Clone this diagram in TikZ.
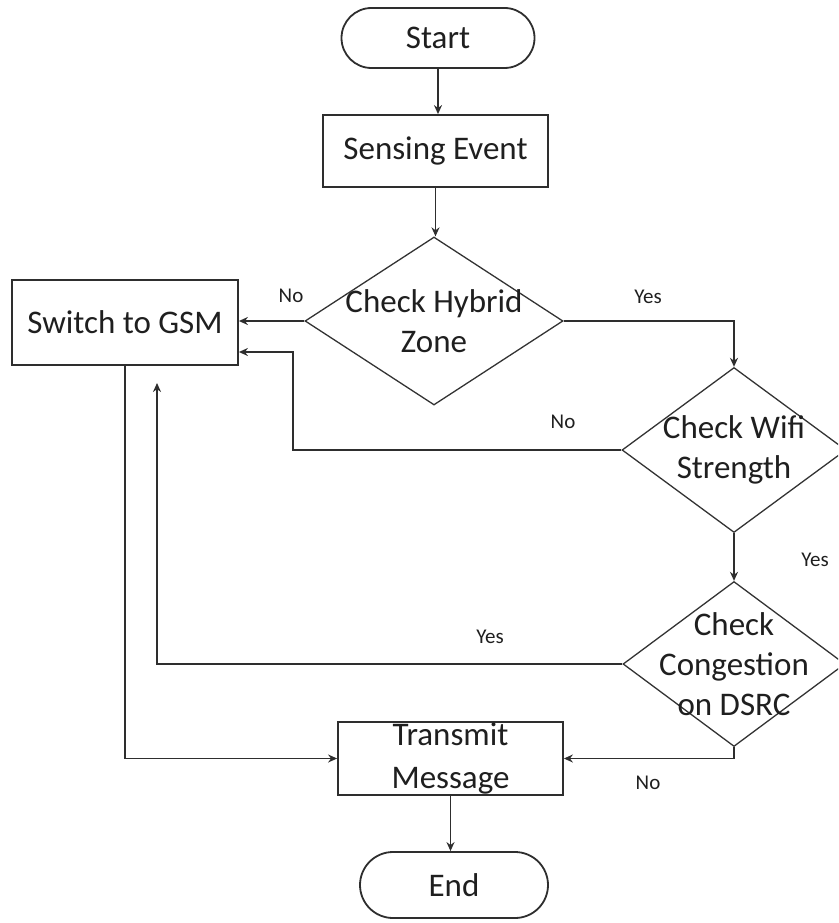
\documentclass[tikz,border=0pt]{standalone}
\usepackage{fontspec}
\setmainfont{Carlito}
\usetikzlibrary{shapes.geometric,arrows.meta}
\begin{document}
\begin{tikzpicture}[x=1pt,y=-1pt,
  line width=1.8pt,
  every node/.style={text=black!88},
  box/.style={draw=black!82, rectangle, inner sep=0pt, align=center, font=\fontsize{33}{40}\selectfont},
  term/.style={box, rounded corners=30pt},
  dia/.style={draw=black!80, diamond, inner sep=0pt, line width=1.3pt},
  dtext/.style={align=center, font=\fontsize{33}{40}\selectfont},
  lbl/.style={font=\fontsize{21}{25}\selectfont},
  arr/.style={draw=black!82, -{Stealth[length=9pt,width=8pt]}}]
\useasboundingbox (0,0) rectangle (838,923);
\clip (0,0) rectangle (838,923);
% nodes
\node[term, minimum width=193pt, minimum height=60pt] (start) at (438,38) {Start};
\node[box, minimum width=225pt, minimum height=72pt] (sense) at (435.5,151) {Sensing Event};
\node[dia, minimum width=258pt, minimum height=168pt] (hyb) at (434,321) {};
\node[dtext] (hybt) at (hyb) {Check Hybrid\\Zone};
\node[box, minimum width=226pt, minimum height=85pt] (gsm) at (125,322.5) {Switch to GSM};
\node[dia, minimum width=224pt, minimum height=165pt] (wifi) at (734,450) {};
\node[dtext] (wifit) at (wifi) {Check Wifi\\Strength};
\node[dia, minimum width=222pt, minimum height=165pt] (cong) at (734,664) {};
\node[dtext] (congt) at (cong) {Check\\Congestion\\on DSRC};
\node[box, minimum width=225pt, minimum height=73pt, font=\fontsize{33}{43}\selectfont] (tx) at (450.5,758.5) {Transmit\\Message};
\node[term, minimum width=188pt, minimum height=66pt, rounded corners=33pt] (end) at (454,885) {End};
% labels
\node[lbl] (l1) at (291,296) {No};
\node[lbl] (l2) at (648,297) {Yes};
\node[lbl] (l3) at (563,422) {No};
\node[lbl] (l4) at (815,560) {Yes};
\node[lbl] (l5) at (490,637) {Yes};
\node[lbl] (l6) at (648,783) {No};
% helper coordinates
\coordinate (gsmB) at (293,352);
\coordinate (upTip) at (157,383);
% connectors
\draw[arr] (start.south) -- (start.south |- sense.north);
\draw[arr] (sense.south) -- (sense.south |- hyb.north);
\draw[arr] (hyb.west) -- (hyb.west -| gsm.east);
\draw[arr] (hyb.east) -| (wifi.north);
\draw[arr] (wifi.west) -| (gsmB) -- (gsmB -| gsm.east);
\draw[arr] (wifi.south) -- (cong.north);
\draw[arr] (cong.west) -| (upTip);
\draw[arr] (gsm.south) |- (tx.west);
\draw[arr] (cong.south) |- (tx.east);
\draw[arr] (tx.south) -- (tx.south |- end.north);
\end{tikzpicture}
\end{document}
